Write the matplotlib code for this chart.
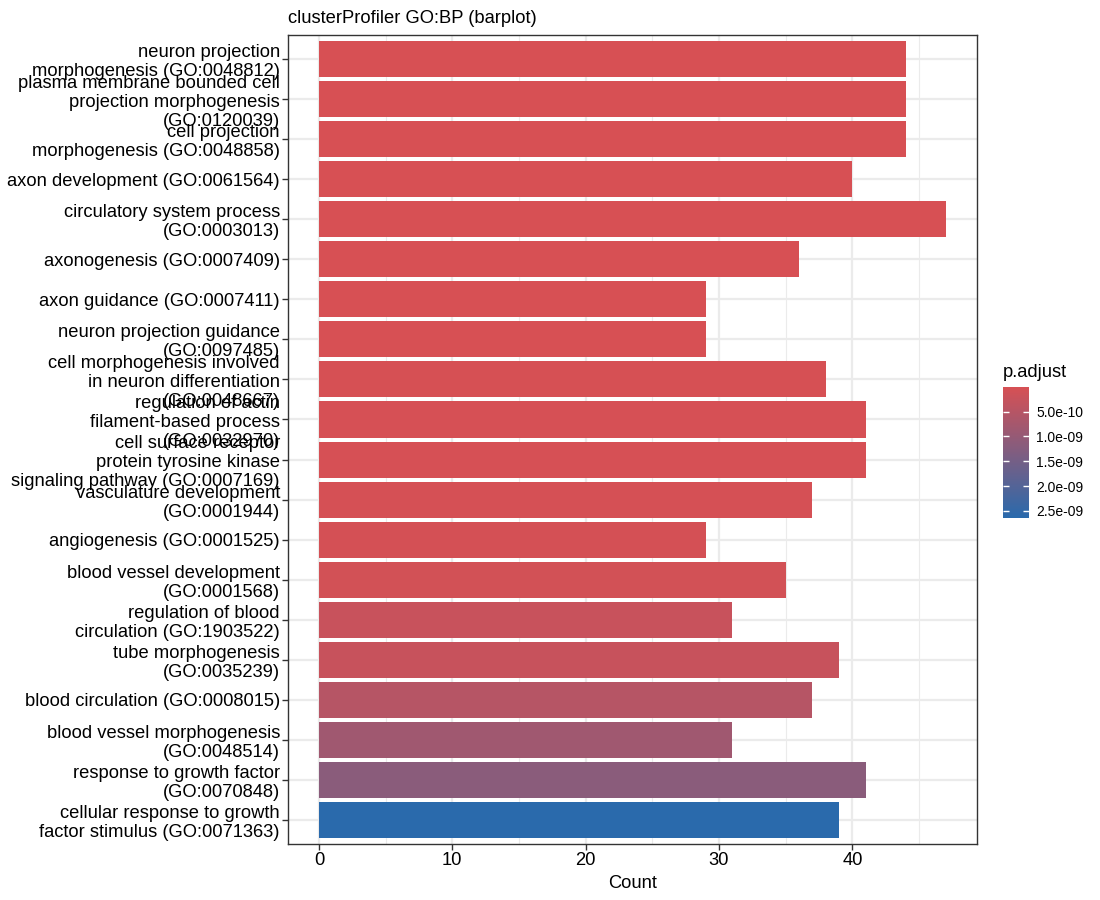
import numpy as np
import matplotlib
matplotlib.use("Agg")
import matplotlib.pyplot as plt
from matplotlib.colors import LinearSegmentedColormap, Normalize
from matplotlib.cm import ScalarMappable
from matplotlib.ticker import FixedLocator, FuncFormatter

plt.rcParams["font.family"] = ["Liberation Sans", "DejaVu Sans"]

# GO terms, top to bottom as drawn
terms = [
    "neuron projection\nmorphogenesis (GO:0048812)",
    "plasma membrane bounded cell\nprojection morphogenesis\n(GO:0120039)",
    "cell projection\nmorphogenesis (GO:0048858)",
    "axon development (GO:0061564)",
    "circulatory system process\n(GO:0003013)",
    "axonogenesis (GO:0007409)",
    "axon guidance (GO:0007411)",
    "neuron projection guidance\n(GO:0097485)",
    "cell morphogenesis involved\nin neuron differentiation\n(GO:0048667)",
    "regulation of actin\nfilament-based process\n(GO:0032970)",
    "cell surface receptor\nprotein tyrosine kinase\nsignaling pathway (GO:0007169)",
    "vasculature development\n(GO:0001944)",
    "angiogenesis (GO:0001525)",
    "blood vessel development\n(GO:0001568)",
    "regulation of blood\ncirculation (GO:1903522)",
    "tube morphogenesis\n(GO:0035239)",
    "blood circulation (GO:0008015)",
    "blood vessel morphogenesis\n(GO:0048514)",
    "response to growth factor\n(GO:0070848)",
    "cellular response to growth\nfactor stimulus (GO:0071363)",
]
counts = [44, 44, 44, 40, 47, 36, 29, 29, 38, 41,
          41, 37, 29, 35, 31, 39, 37, 31, 41, 39]
p_adjust = [3.2e-15, 3.2e-15, 4.1e-15, 1.1e-13, 2.6e-13, 5.4e-13, 6.9e-12,
            6.9e-12, 1.5e-11, 2.4e-11, 2.4e-11, 3.5e-11, 4.6e-11, 7.9e-11,
            2.3e-10, 2.4e-10, 5.0e-10, 8.4e-10, 1.17e-9, 2.635e-9]
x_ticks = [0, 10, 20, 30, 40]
legend_ticks = [5e-10, 1e-9, 1.5e-9, 2e-9, 2.5e-9]

LOW = "#D75054"
HIGH = "#2A6AAC"
GRID = "#EBEBEB"
FRAME = "#333333"
FS = 13.2

cmap = LinearSegmentedColormap.from_list("padj", [LOW, HIGH])
norm = Normalize(vmin=min(p_adjust), vmax=max(p_adjust))

fig = plt.figure(figsize=(11, 9), dpi=100)
ax = fig.add_axes([0.2614, 0.0622, 0.6268, 0.8989])

n = len(terms)
ypos = np.arange(n)
ax.barh(ypos, counts, height=0.9, color=cmap(norm(np.array(p_adjust))),
        zorder=2)

ax.set_ylim(n - 0.4, -0.6)
ax.set_xlim(-0.05 * max(counts), 1.05 * max(counts))
ax.set_yticks(ypos)
ax.set_yticklabels(terms, fontsize=FS, linespacing=1.15)
ax.set_xticks(x_ticks)
ax.xaxis.set_minor_locator(FixedLocator([5, 15, 25, 35, 45]))
ax.tick_params(axis="both", which="major", color=FRAME, length=4, width=1,
               labelsize=FS, labelcolor="black")
ax.tick_params(axis="y", pad=1.5)
ax.tick_params(axis="x", pad=2)
ax.tick_params(axis="x", which="minor", length=0)

ax.grid(True, which="major", color=GRID, lw=1.6, zorder=0)
ax.grid(True, which="minor", axis="x", color=GRID, lw=0.8, zorder=0)
ax.set_axisbelow(True)
for s in ax.spines.values():
    s.set_color(FRAME)
    s.set_linewidth(1)

ax.set_xlabel("Count", fontsize=FS, labelpad=4)
ax.set_title("clusterProfiler GO:BP (barplot)", loc="left", fontsize=FS,
             pad=9)

# colour bar legend
cax = fig.add_axes([0.912, 0.4248, 0.0236, 0.1456])
cb = fig.colorbar(ScalarMappable(norm=norm, cmap=cmap), cax=cax)
cb.outline.set_visible(False)
cax.invert_yaxis()
cb.set_ticks(legend_ticks)
cb.ax.yaxis.set_major_formatter(FuncFormatter(lambda v, p: f"{v:.1e}"))
cax.tick_params(axis="y", direction="in", color="white", length=4, width=1,
                left=True, right=True, labelsize=10, pad=5)
cax.set_title("p.adjust", loc="left", fontsize=FS, pad=7)

fig.savefig("out.png", dpi=100)
